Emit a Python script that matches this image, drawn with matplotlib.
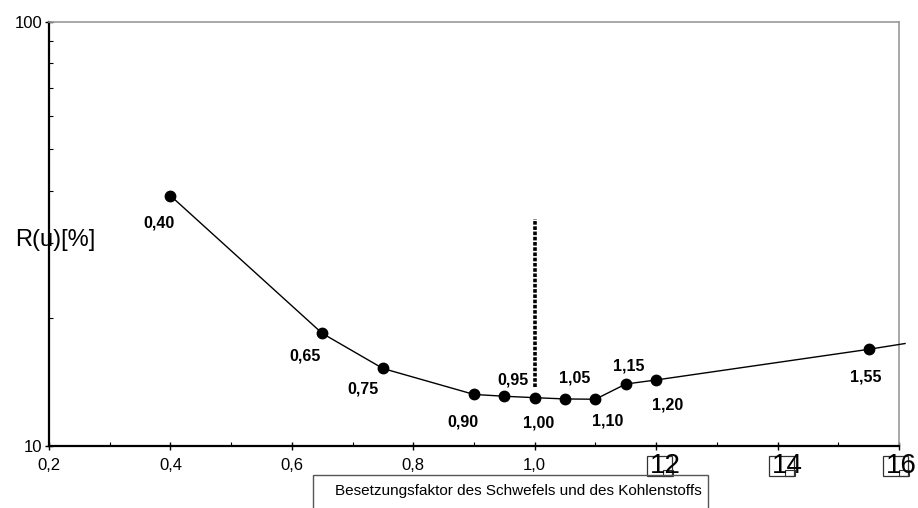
import matplotlib
matplotlib.use("Agg")
import matplotlib.pyplot as plt
from matplotlib.ticker import FixedLocator, FixedFormatter, NullFormatter
from matplotlib.patches import Rectangle
import matplotlib.transforms as mtransforms

# Besetzungsfaktor (x) und R(u) in %
faktor = [0.40, 0.65, 0.75, 0.90, 0.95, 1.00, 1.05, 1.10, 1.15, 1.20, 1.55]
ru = [38.9, 18.4, 15.2, 13.2, 13.07, 12.97, 12.88, 12.86, 13.97, 14.28, 16.87]
punkt_labels = ["0,40", "0,65", "0,75", "0,90", "0,95", "1,00", "1,05", "1,10", "1,15", "1,20", "1,55"]
# label offsets in points (dx, dy)
label_offsets = [(-8, -20), (-12, -16), (-14, -15), (-8, -20), (6, 12), (3, -18),
                 (7, 15), (9, -16), (2, 13), (8, -18), (-2, -20)]
# line continues past the last marker to the right border
tail_x = [1.55, 1.61]
tail_y = [16.87, 17.41]

# dotted reference line at factor 1.0
ref_x = 1.0
ref_y = [13.77, 34.3]

x_major = [0.2, 0.4, 0.6, 0.8, 1.0, 1.2, 1.4, 1.6]
x_major_labels = ["0,2", "0,4", "0,6", "0,8", "1,0", "12", "14", "16"]
x_minor = [0.3, 0.5, 0.7, 0.9, 1.1, 1.3, 1.5]
y_major = [10, 100]
y_major_labels = ["10", "100"]

plt.rcParams['font.family'] = ['Liberation Sans', 'DejaVu Sans']

fig = plt.figure(figsize=(9.18, 5.08), dpi=100)
ax = fig.add_axes([49 / 918, 1 - 445.5 / 508, 850 / 918, 423.5 / 508])

ax.plot(faktor, ru, color='black', lw=1, marker='o', markersize=7.5, zorder=3)
ax.plot(tail_x, tail_y, color='black', lw=1, clip_on=False, zorder=3)
ax.plot([ref_x, ref_x], ref_y, color='black', lw=2.6, linestyle=(0, (1, 0.45)), zorder=2)

for xv, yv, lab, off in zip(faktor, ru, punkt_labels, label_offsets):
    ax.annotate(lab, (xv, yv), xytext=off, textcoords='offset points',
                ha='center', va='center', fontsize=11.5, fontweight='bold')

ax.set_yscale('log')
ax.set_xlim(0.2, 1.6)
ax.set_ylim(10, 100)

ax.xaxis.set_major_locator(FixedLocator(x_major))
ax.xaxis.set_major_formatter(FixedFormatter(x_major_labels))
ax.xaxis.set_minor_locator(FixedLocator(x_minor))
ax.yaxis.set_major_locator(FixedLocator(y_major))
ax.yaxis.set_major_formatter(FixedFormatter(y_major_labels))
ax.yaxis.set_minor_formatter(NullFormatter())

ax.tick_params(axis='both', which='major', direction='inout', length=6, width=1,
               labelsize=12, pad=2)
ax.tick_params(axis='x', which='major', pad=6)
ax.tick_params(axis='both', which='minor', direction='in', length=3, width=0.8)

for spine in ['left', 'bottom']:
    ax.spines[spine].set_linewidth(1.6)
    ax.spines[spine].set_color('black')
for spine in ['top', 'right']:
    ax.spines[spine].set_linewidth(1.2)
    ax.spines[spine].set_color('#999999')

# the 1,2 / 1,4 / 1,6 labels show up large with a missing-glyph box
px = 1 / 607.0  # data units per pixel along x
trans = mtransforms.blended_transform_factory(ax.transData, fig.transFigure)
for lbl, xv in zip(ax.get_xticklabels(), x_major):
    if xv >= 1.2:
        shift = -6 if xv < 1.6 else -13
        off = mtransforms.ScaledTranslation(shift / 100, 5 / 100, fig.dpi_scale_trans)
        lbl.set_fontsize(20)
        lbl.set_horizontalalignment('left')
        lbl.set_transform(lbl.get_transform() + off)
        bx = xv + (shift - 3) * px
        ax.add_artist(Rectangle((bx, 1 - 476 / 508), 25 * px, 20 / 508,
                                transform=trans, fill=False, ec='#333333',
                                lw=0.9, clip_on=False))
        ax.add_artist(Rectangle((bx + 16 * px, 1 - 476 / 508), 10 * px, 6 / 508,
                                transform=trans, fill=False, ec='#333333',
                                lw=0.8, clip_on=False))

# y label
fig.text(55 / 918, 1 - 240 / 508, "R(u)[%]", fontsize=17, ha='center', va='center')

# x label in a box
fig.add_artist(Rectangle((313 / 918, 1 - 530 / 508), 395 / 918, 55 / 508,
                         transform=fig.transFigure, fill=False, ec='#555555', lw=1))
fig.text(518 / 918, 1 - 491 / 508, "Besetzungsfaktor des Schwefels und des Kohlenstoffs",
         fontsize=11, ha='center', va='center')

fig.savefig("out.png", dpi=100)
